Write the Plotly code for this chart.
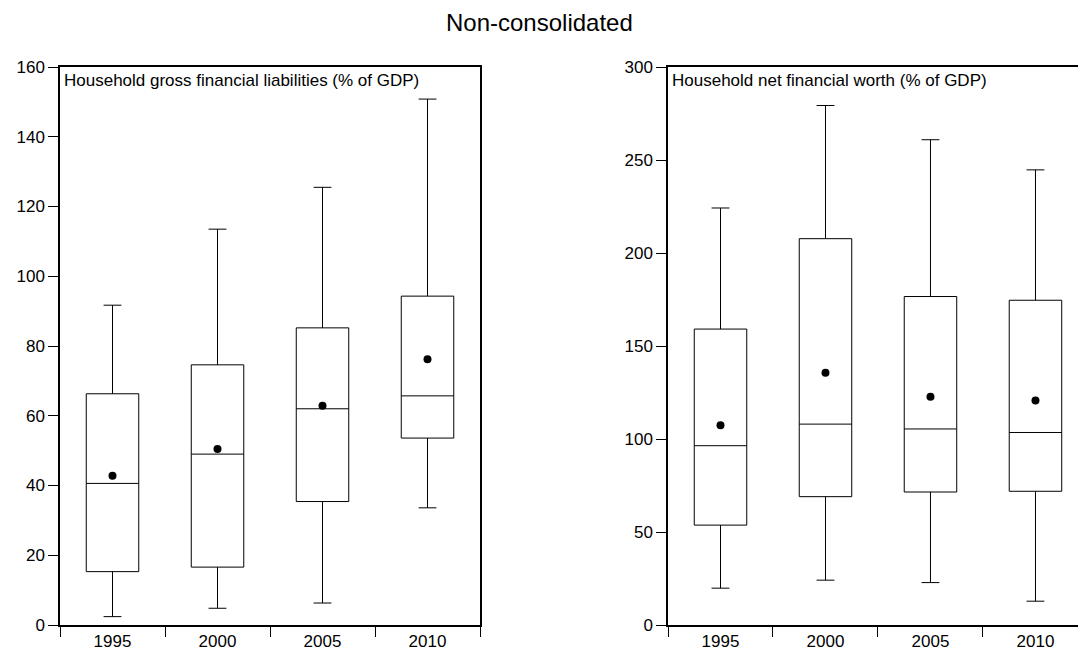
import plotly.graph_objects as go

years = ["1995", "2000", "2005", "2010"]

# Household gross financial liabilities (% of GDP)
liab_low = [2.4, 4.8, 6.3, 33.6]
liab_q1 = [15.3, 16.6, 35.4, 53.6]
liab_med = [40.6, 49.0, 62.0, 65.7]
liab_q3 = [66.3, 74.6, 85.2, 94.3]
liab_high = [91.7, 113.5, 125.5, 150.8]
liab_mean = [42.8, 50.5, 62.9, 76.2]

# Household net financial worth (% of GDP)
worth_low = [19.8, 24.1, 22.8, 12.8]
worth_q1 = [53.7, 69.0, 71.5, 71.9]
worth_med = [96.4, 108.0, 105.4, 103.5]
worth_q3 = [159.1, 207.7, 176.6, 174.6]
worth_high = [224.2, 279.3, 260.9, 244.7]
worth_mean = [107.4, 135.6, 122.7, 120.7]

liab_ticks = [0, 20, 40, 60, 80, 100, 120, 140, 160]
worth_ticks = [0, 50, 100, 150, 200, 250, 300]

W, H = 1078, 657
FONT = "Liberation Sans, Arial, sans-serif"

fig = go.Figure()


def add_panel(xa, ya, low, q1, med, q3, high, mean):
    fig.add_trace(go.Box(
        x=years, q1=q1, median=med, q3=q3, lowerfence=low, upperfence=high,
        xaxis=xa, yaxis=ya, width=0.5, whiskerwidth=0.34,
        line=dict(color="black", width=1), fillcolor="rgba(0,0,0,0)",
        boxpoints=False, showlegend=False, hoverinfo="skip",
    ))
    fig.add_trace(go.Scatter(
        x=years, y=mean, xaxis=xa, yaxis=ya, mode="markers",
        marker=dict(color="black", size=8), showlegend=False, hoverinfo="skip",
    ))


add_panel("x", "y", liab_low, liab_q1, liab_med, liab_q3, liab_high, liab_mean)
add_panel("x2", "y2", worth_low, worth_q1, worth_med, worth_q3, worth_high, worth_mean)

ydom = [1 - 625 / H, 1 - 67 / H]

xcommon = dict(
    type="category", categoryorder="array", categoryarray=years,
    showline=True, linecolor="black", linewidth=1.5, mirror=True,
    ticks="outside", ticklen=10, tickwidth=1, tickcolor="black",
    tickson="boundaries", showgrid=False, zeroline=False, automargin=False,
    tickfont=dict(family=FONT, size=17, color="black"),
)
ycommon = dict(
    showline=True, linecolor="black", linewidth=1.5,
    ticks="outside", ticklen=10, tickwidth=1, tickcolor="black",
    showgrid=False, zeroline=False, automargin=False,
    tickfont=dict(family=FONT, size=17, color="black"),
)

fig.update_layout(
    width=W, height=H,
    margin=dict(l=0, r=0, t=0, b=0),
    paper_bgcolor="white", plot_bgcolor="white",
    xaxis=dict(domain=[60 / W, 480 / W], range=[-0.5, 3.5], anchor="y", **xcommon),
    yaxis=dict(domain=ydom, range=[0, 160], tickvals=liab_ticks, mirror=True,
               anchor="x", **ycommon),
    xaxis2=dict(domain=[668 / W, 1.0], range=[-0.5, 3.405], anchor="y2", **xcommon),
    yaxis2=dict(domain=ydom, range=[0, 300], tickvals=worth_ticks, mirror=False,
                anchor="x2", **ycommon),
    annotations=[
        dict(text="Non-consolidated", xref="paper", yref="paper", x=0.5, y=1 - 22 / H,
             xanchor="center", yanchor="middle", showarrow=False,
             font=dict(family=FONT, size=24, color="black")),
        dict(text="Household gross financial liabilities (% of GDP)",
             xref="x domain", yref="y domain", x=0.004, y=0.997,
             xanchor="left", yanchor="top", showarrow=False,
             font=dict(family=FONT, size=17, color="black")),
        dict(text="Household net financial worth (% of GDP)",
             xref="x2 domain", yref="y2 domain", x=0.004, y=0.997,
             xanchor="left", yanchor="top", showarrow=False,
             font=dict(family=FONT, size=17, color="black")),
    ],
)

fig.write_html("out.html", config={"displayModeBar": False},
               post_script="document.body.style.margin='0';")
